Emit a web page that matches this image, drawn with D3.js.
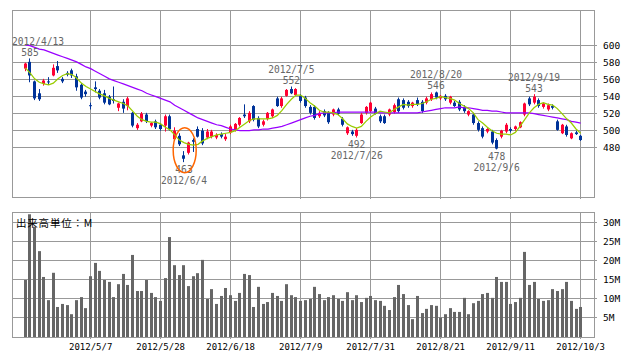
<!DOCTYPE html>
<html>
<head>
<meta charset="utf-8">
<script src="https://cdn.jsdelivr.net/npm/d3@7"></script>
<style>
  body { margin: 0; background: #fff; }
  text { font-family: "DejaVu Sans Mono", monospace; }
</style>
</head>
<body>
<svg id="chart" width="638" height="362"></svg>
<script>
// trading days shown (2012/4/12 .. 2012/10/3)
const dates = [
  "2012/4/12","2012/4/13","2012/4/16","2012/4/17","2012/4/18","2012/4/19","2012/4/20","2012/4/23","2012/4/24","2012/4/25","2012/4/26","2012/4/27",
  "2012/5/1","2012/5/2","2012/5/7","2012/5/8","2012/5/9","2012/5/10","2012/5/11","2012/5/14","2012/5/15","2012/5/16","2012/5/17","2012/5/18",
  "2012/5/21","2012/5/22","2012/5/23","2012/5/24","2012/5/25","2012/5/28","2012/5/29","2012/5/30","2012/5/31",
  "2012/6/1","2012/6/4","2012/6/5","2012/6/6","2012/6/7","2012/6/8","2012/6/11","2012/6/12","2012/6/13","2012/6/14","2012/6/15",
  "2012/6/18","2012/6/19","2012/6/20","2012/6/21","2012/6/22","2012/6/25","2012/6/26","2012/6/27","2012/6/28","2012/6/29",
  "2012/7/2","2012/7/3","2012/7/4","2012/7/5","2012/7/6","2012/7/9","2012/7/10","2012/7/11","2012/7/12","2012/7/13",
  "2012/7/17","2012/7/18","2012/7/19","2012/7/20","2012/7/23","2012/7/24","2012/7/25","2012/7/26","2012/7/27","2012/7/30","2012/7/31",
  "2012/8/1","2012/8/2","2012/8/3","2012/8/6","2012/8/7","2012/8/8","2012/8/9","2012/8/10","2012/8/13","2012/8/14","2012/8/15","2012/8/16","2012/8/17",
  "2012/8/20","2012/8/21","2012/8/22","2012/8/23","2012/8/24","2012/8/27","2012/8/28","2012/8/29","2012/8/30","2012/8/31",
  "2012/9/3","2012/9/4","2012/9/5","2012/9/6","2012/9/7","2012/9/10","2012/9/11","2012/9/12","2012/9/13","2012/9/14",
  "2012/9/18","2012/9/19","2012/9/20","2012/9/21","2012/9/24","2012/9/25","2012/9/26","2012/9/27","2012/9/28",
  "2012/10/1","2012/10/2","2012/10/3"
];

const open = [573,581,558,544,555,558,565,576,561,568,571,564,554,546,530,551,547,544,540,537,527,534,529,521,
  503,511,519,506,511,507,506,517,490,494,471,474,489,502,500,492,493,492,496,490,498,501,507,519,511,529,515,507,514,517,
  538,529,541,549,542,541,539,528,528,517,523,521,519,525,514,497,499,494,509,521,523,526,517,517,519,522,537,536,534,529,536,534,533,537,
  545,538,541,533,533,534,528,519,519,509,503,499,499,489,493,499,502,502,504,519,538,533,536,528,525,529,511,497,505,491,498,494];
const high = [580,585,559,549,561,563,578,582,563,570,573,567,556,548,533,558,549,548,542,552,533,537,540,522,
  509,522,521,510,513,509,519,519,504,497,476,487,491,505,503,502,501,497,498,496,507,509,516,531,523,530,517,513,522,526,
  540,540,549,552,550,543,541,530,530,523,525,523,526,527,516,505,501,503,521,529,534,528,519,519,526,532,539,538,536,534,539,536,540,545,
  546,542,543,541,535,536,530,524,521,511,505,503,501,491,501,509,504,506,511,533,540,543,538,533,532,531,513,508,507,498,500,495];
const low = [570,557,536,535,553,554,564,568,556,564,562,547,537,540,525,545,537,531,530,532,523,521,524,504,
  501,510,509,504,502,500,499,500,488,482,463,472,475,492,483,490,491,490,491,488,496,499,505,515,509,511,503,505,512,515,
  528,527,540,543,541,533,527,519,513,515,516,508,517,518,505,495,494,492,508,519,521,519,509,508,517,520,521,525,527,527,529,521,531,535,
  537,536,535,531,528,523,521,517,507,499,491,497,484,478,491,497,498,500,503,517,529,531,527,526,523,525,500,496,493,490,495,488];
const close = [579,565,538,537,559,557,574,571,558,566,565,551,539,543,529,549,539,533,531,535,532,526,538,506,
  507,520,511,509,504,502,517,502,500,484,467,486,487,493,485,499,499,495,493,493,505,508,515,517,521,513,505,511,521,525,
  529,538,548,544,549,535,529,521,515,521,518,510,525,520,507,504,496,501,519,528,533,520,511,509,525,530,523,527,529,533,531,523,538,543,
  539,541,537,540,529,525,523,523,509,501,493,502,486,479,500,507,500,505,510,532,531,540,529,532,530,527,501,507,495,497,496,489];

// volume, millions of shares
const volume = [15,32.3,29,22.6,15.8,9.7,16.9,7.9,8.7,8.4,6,9.7,10.5,7.6,16,19.5,17.4,15,14.5,10.5,13.9,16.6,13.7,21.6,
  12.1,12.1,15,11.6,10.5,9.5,15.5,26.3,18.9,16.3,18.9,13.4,16,16.8,20.3,10,12.6,8.7,10.8,12.9,11,9.5,11.6,16.6,16.3,7.9,
  13.2,8.7,9.2,11.6,10.8,9.5,13.9,11,10.5,9.5,9.7,10,13.2,11.3,9.7,10.5,11,10,9.5,11.8,9.7,11,9.2,10.3,10.8,9.7,9.5,8.2,
  7.1,10.5,13.7,11.3,8.4,4.7,10.8,6.3,7.4,8.4,8.2,5.1,6,7.6,6.6,6.6,10.3,6,8.9,9.5,11.3,11.6,10.3,15.8,14.5,14.5,8.7,9.2,
  10.3,22.4,13.7,14.5,10,9.5,9.7,12.6,12.1,12.6,14.5,9.5,7.4,7.9];

// moving averages as drawn (short = green, long = purple)
const maShort = [574,568,561,557,555,554,556,561,565,567,566,562,556,552,549,546,543,541,538,536,534,532,529,523,
  517,513,511,510,510,508,504,501,495,489,486,484,483,484,488,491,493,495,496,497,498,500,504,508,512,514,514,514,514,515,
  518,524,531,537,542,542,538,533,529,524,522,522,521,519,514,508,505,503,505,511,516,520,523,522,521,525,528,531,530,531,
  531,532,534,537,538,540,539,538,536,532,529,526,521,513,509,504,500,497,496,496,495,498,505,513,521,527,531,533,531,530,
  526,520,514,509,502,497];
const maLong = [601,600,598,596,595,593,591,589,587,585,583,581,578,575,573,570,567,564,561,559,557,555,553,551,
  549,547,544,542,540,538,536,534,530,527,524,521,518,515,513,511,509,507,506,504,502,501,500,500,500,501,501,502,502,503,
  504,505,507,509,511,513,515,517,518,520,521,521,521,522,522,522,522,522,522,522,522,522,521,521,521,521,521,521,521,521,
  521,522,523,524,525,526,527,527,527,528,527,527,526,525,524,524,523,523,522,521,521,521,521,521,521,520,519,518,517,516,
  515,514,513,511,510,509];

const priceTicks = [480, 500, 520, 540, 560, 580, 600];
const volTicks = [5, 10, 15, 20, 25, 30];
const dateTicks = ["2012/5/7","2012/5/28","2012/6/18","2012/7/9","2012/7/31","2012/8/21","2012/9/11","2012/10/3"];
const highMarks = ["2012/4/13","2012/7/5","2012/8/20","2012/9/19"];
const lowMarks = ["2012/6/4","2012/7/26","2012/9/6"];

const svg = d3.select('#chart');
const left = 12, right = 594;
const grid = '#999';
const upColor = '#ff0033', downColor = '#003399';

const x = d3.scalePoint().domain(dates).range([25.33, 580.67]);
const yP = d3.scaleLinear().domain([422, 642]).range([197, 10]);
const yV = d3.scaleLinear().domain([0, 32.9]).range([337, 212]);

const px = v => Math.floor(v) + 0.5;

function panel(top, bottom, yScale, ticks, fmt) {
    const g = svg.append('g');
    ticks.forEach(t => {
        const yy = Math.round(yScale(t)) - 0.5;
        g.append('line').attr('x1', left).attr('x2', right + 3)
            .attr('y1', yy).attr('y2', yy).attr('stroke', grid);
        g.append('text').attr('x', 603).attr('y', yy + 3.5)
            .attr('font-size', 9.5).attr('fill', '#000').text(fmt(t));
    });
    dateTicks.forEach(d => {
        const xx = px(x(d));
        g.append('line').attr('x1', xx).attr('x2', xx)
            .attr('y1', top).attr('y2', bottom + 2).attr('stroke', grid);
    });
    g.append('rect').attr('x', left + 0.5).attr('y', top + 0.5)
        .attr('width', right - left).attr('height', bottom - top)
        .attr('fill', 'none').attr('stroke', grid);
}

panel(10, 197, yP, priceTicks, d => d);
panel(212, 337, yV, volTicks, d => d + 'M');

// volume bars
svg.append('g').selectAll('rect').data(volume).join('rect')
    .attr('x', (d, i) => Math.floor(x(dates[i])) - 1)
    .attr('width', 3)
    .attr('y', d => yV(d))
    .attr('height', d => 337 - yV(d))
    .attr('fill', '#666');

// candles
const cg = svg.append('g');
dates.forEach((d, i) => {
    const cx = x(d);
    const up = close[i] >= open[i];
    const col = up ? upColor : downColor;
    cg.append('line').attr('x1', px(cx)).attr('x2', px(cx))
        .attr('y1', yP(high[i])).attr('y2', yP(low[i]))
        .attr('stroke', col).attr('stroke-width', 1);
    const y0 = yP(Math.max(open[i], close[i]));
    const y1 = yP(Math.min(open[i], close[i]));
    cg.append('rect').attr('x', Math.floor(cx) - 1).attr('width', 3)
        .attr('y', y0).attr('height', Math.max(1, y1 - y0))
        .attr('fill', col);
});

// moving averages
const line = d3.line().x((d, i) => x(dates[i])).y(d => yP(d));
svg.append('path').attr('d', line(maLong)).attr('fill', 'none')
    .attr('stroke', '#9900ff').attr('stroke-width', 1.25);
svg.append('path').attr('d', line(maShort)).attr('fill', 'none')
    .attr('stroke', '#99cc00').attr('stroke-width', 1.25);

// high / low annotations
const ag = svg.append('g').attr('font-size', 9.6).attr('fill', '#666');
function note(cx, cy, str) {
    const t = ag.append('text').attr('y', cy + 3.5).text(str);
    const w = t.node().getComputedTextLength();
    let lx = cx - w / 2;
    if (lx < left) lx = left;
    if (lx + w > right) lx = right - w;
    t.attr('x', lx);
}
highMarks.forEach(d => {
    const i = dates.indexOf(d);
    const yy = yP(high[i]);
    note(x(d), yy - 17, d);
    note(x(d), yy - 6, high[i]);
});
lowMarks.forEach(d => {
    const i = dates.indexOf(d);
    const yy = yP(low[i]);
    note(x(d), yy + 7, low[i]);
    note(x(d), yy + 18, d);
});

// circle on the lowest low
const minI = d3.minIndex(low);
svg.append('ellipse')
    .attr('cx', x(dates[minI]) + 0.7).attr('cy', yP(low[minI]) - 12)
    .attr('rx', 11.5).attr('ry', 22.5)
    .attr('fill', 'none').attr('stroke', '#ff6600').attr('stroke-width', 1.5);

// date axis
svg.append('g').selectAll('text').data(dateTicks).join('text')
    .attr('x', d => x(d)).attr('y', 350)
    .attr('text-anchor', 'middle').attr('font-size', 9).attr('fill', '#000')
    .text(d => d);

svg.append('text').attr('x', 16).attr('y', 226.5)
    .style('font-family', '"Noto Sans CJK JP", sans-serif')
    .attr('font-size', 10.5).attr('letter-spacing', 0.8).attr('fill', '#000')
    .text('出来高単位：M');
</script>
</body>
</html>
